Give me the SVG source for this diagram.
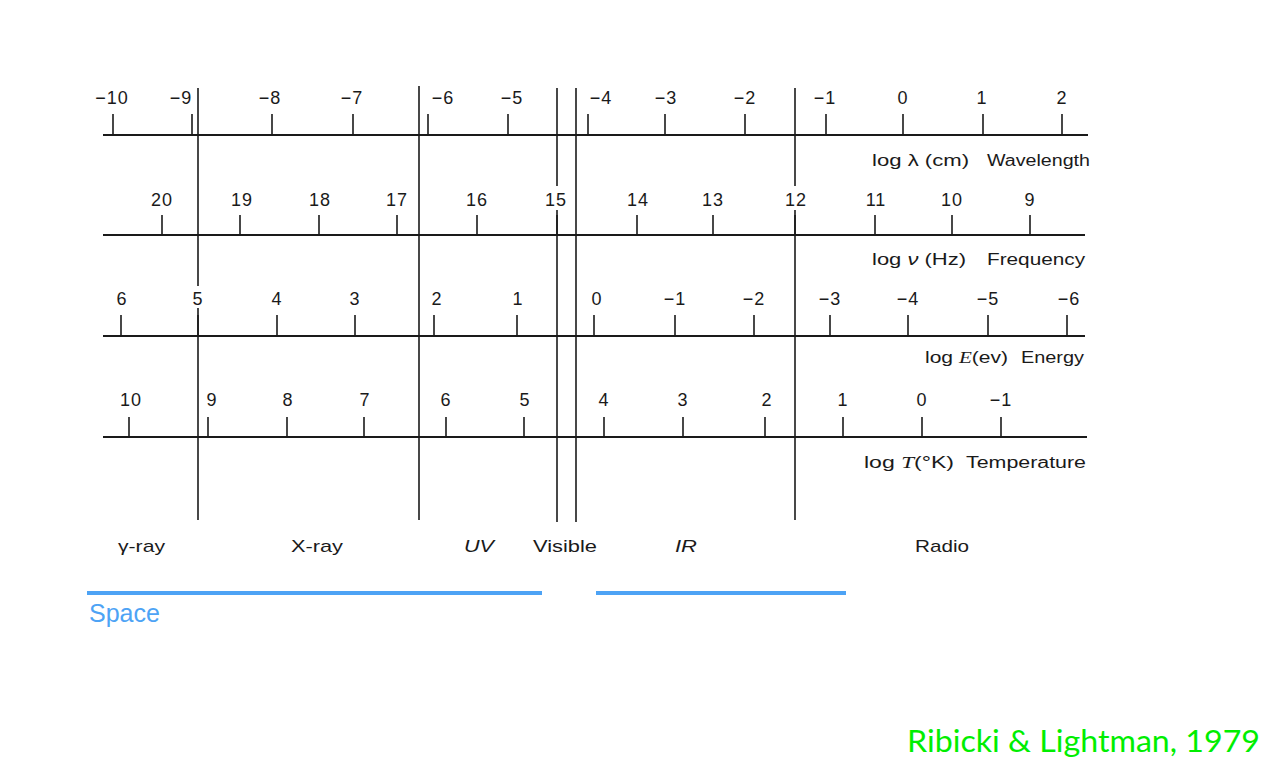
<svg xmlns="http://www.w3.org/2000/svg" width="1283" height="779" viewBox="0 0 1283 779">
<style>
.ax{stroke:#1a1a1a;stroke-width:1.8;fill:none}
.tk{stroke:#1a1a1a;stroke-width:1.6}
.dv{stroke:#1a1a1a;stroke-width:1.6}
.n{font-family:"Liberation Sans",Arial,sans-serif;font-size:18px;fill:#1a1a1a;text-anchor:middle;letter-spacing:1px}
.al{font-family:"Liberation Sans",Arial,sans-serif;font-size:16px;fill:#1a1a1a}
.bl{font-family:"Liberation Sans",Arial,sans-serif;font-size:17px;fill:#1a1a1a}
.sp{stroke:#4da3f5;stroke-width:4}
</style>
<rect width="1283" height="779" fill="#ffffff"/>
<g id="dividers">
<line class="dv" x1="198" y1="88" x2="198" y2="286"/>
<line class="dv" x1="198" y1="308" x2="198" y2="520"/>
<line class="dv" x1="419" y1="86" x2="419" y2="520"/>
<line class="dv" x1="557" y1="88" x2="557" y2="186"/>
<line class="dv" x1="557" y1="210" x2="557" y2="522"/>
<line class="dv" x1="576" y1="88" x2="576" y2="522"/>
<line class="dv" x1="795" y1="88" x2="795" y2="186"/>
<line class="dv" x1="795" y1="210" x2="795" y2="520"/>
</g>
<g id="wavelength">
<line class="ax" x1="103" y1="135" x2="1088" y2="135"/>
<g class="tk">
<line x1="113" y1="114" x2="113" y2="135"/><line x1="192" y1="114" x2="192" y2="135"/><line x1="272" y1="114" x2="272" y2="135"/><line x1="353" y1="114" x2="353" y2="135"/><line x1="428" y1="114" x2="428" y2="135"/><line x1="508" y1="114" x2="508" y2="135"/><line x1="588" y1="114" x2="588" y2="135"/><line x1="665" y1="114" x2="665" y2="135"/><line x1="745" y1="114" x2="745" y2="135"/><line x1="826" y1="114" x2="826" y2="135"/><line x1="903" y1="114" x2="903" y2="135"/><line x1="983" y1="114" x2="983" y2="135"/><line x1="1062" y1="114" x2="1062" y2="135"/>
</g>
<text class="n" x="112" y="104">−10</text><text class="n" x="181" y="104">−9</text><text class="n" x="270" y="104">−8</text><text class="n" x="352" y="104">−7</text><text class="n" x="443" y="104">−6</text><text class="n" x="512" y="104">−5</text><text class="n" x="601" y="104">−4</text><text class="n" x="666" y="104">−3</text><text class="n" x="745" y="104">−2</text><text class="n" x="825" y="104">−1</text><text class="n" x="903" y="104">0</text><text class="n" x="982" y="104">1</text><text class="n" x="1062" y="104">2</text>
<text class="al" x="872" y="166" textLength="97" lengthAdjust="spacingAndGlyphs">log λ (cm)</text>
<text class="al" x="987" y="166" textLength="103" lengthAdjust="spacingAndGlyphs">Wavelength</text>
</g>
<g id="frequency">
<line class="ax" x1="103" y1="235" x2="1085" y2="235"/>
<g class="tk">
<line x1="162" y1="215" x2="162" y2="235"/><line x1="240" y1="215" x2="240" y2="235"/><line x1="319" y1="215" x2="319" y2="235"/><line x1="397" y1="215" x2="397" y2="235"/><line x1="477" y1="215" x2="477" y2="235"/><line x1="557" y1="215" x2="557" y2="235"/><line x1="637" y1="215" x2="637" y2="235"/><line x1="713" y1="215" x2="713" y2="235"/><line x1="795" y1="215" x2="795" y2="235"/><line x1="875" y1="215" x2="875" y2="235"/><line x1="952" y1="215" x2="952" y2="235"/><line x1="1030" y1="215" x2="1030" y2="235"/>
</g>
<text class="n" x="162" y="206">20</text><text class="n" x="242" y="206">19</text><text class="n" x="320" y="206">18</text><text class="n" x="397" y="206">17</text><text class="n" x="477" y="206">16</text><text class="n" x="556" y="206">15</text><text class="n" x="638" y="206">14</text><text class="n" x="713" y="206">13</text><text class="n" x="796" y="206">12</text><text class="n" x="876" y="206">11</text><text class="n" x="952" y="206">10</text><text class="n" x="1030" y="206">9</text>
<text class="al" x="872" y="265" textLength="94" lengthAdjust="spacingAndGlyphs">log <tspan font-style="italic">ν</tspan> (Hz)</text>
<text class="al" x="987" y="265" textLength="98" lengthAdjust="spacingAndGlyphs">Frequency</text>
</g>
<g id="energy">
<line class="ax" x1="103" y1="336" x2="1085" y2="336"/>
<g class="tk">
<line x1="121" y1="315" x2="121" y2="336"/><line x1="198" y1="315" x2="198" y2="336"/><line x1="277" y1="315" x2="277" y2="336"/><line x1="355" y1="315" x2="355" y2="336"/><line x1="434" y1="315" x2="434" y2="336"/><line x1="517" y1="315" x2="517" y2="336"/><line x1="594" y1="315" x2="594" y2="336"/><line x1="675" y1="315" x2="675" y2="336"/><line x1="754" y1="315" x2="754" y2="336"/><line x1="830" y1="315" x2="830" y2="336"/><line x1="908" y1="315" x2="908" y2="336"/><line x1="988" y1="315" x2="988" y2="336"/><line x1="1067" y1="315" x2="1067" y2="336"/>
</g>
<text class="n" x="122" y="305">6</text><text class="n" x="198" y="305">5</text><text class="n" x="277" y="305">4</text><text class="n" x="355" y="305">3</text><text class="n" x="437" y="305">2</text><text class="n" x="518" y="305">1</text><text class="n" x="597" y="305">0</text><text class="n" x="675" y="305">−1</text><text class="n" x="754" y="305">−2</text><text class="n" x="830" y="305">−3</text><text class="n" x="908" y="305">−4</text><text class="n" x="988" y="305">−5</text><text class="n" x="1069" y="305">−6</text>
<text class="al" x="925" y="363" textLength="83" lengthAdjust="spacingAndGlyphs">log <tspan font-style="italic" font-family="Liberation Serif">E</tspan>(ev)</text>
<text class="al" x="1021" y="363" textLength="63" lengthAdjust="spacingAndGlyphs">Energy</text>
</g>
<g id="temperature">
<line class="ax" x1="103" y1="437" x2="1087" y2="437"/>
<g class="tk">
<line x1="129" y1="417" x2="129" y2="437"/><line x1="208" y1="417" x2="208" y2="437"/><line x1="287" y1="417" x2="287" y2="437"/><line x1="364" y1="417" x2="364" y2="437"/><line x1="446" y1="417" x2="446" y2="437"/><line x1="524" y1="417" x2="524" y2="437"/><line x1="604" y1="417" x2="604" y2="437"/><line x1="683" y1="417" x2="683" y2="437"/><line x1="765" y1="417" x2="765" y2="437"/><line x1="843" y1="417" x2="843" y2="437"/><line x1="922" y1="417" x2="922" y2="437"/><line x1="1001" y1="417" x2="1001" y2="437"/>
</g>
<text class="n" x="131" y="406">10</text><text class="n" x="212" y="406">9</text><text class="n" x="288" y="406">8</text><text class="n" x="365" y="406">7</text><text class="n" x="446" y="406">6</text><text class="n" x="525" y="406">5</text><text class="n" x="604" y="406">4</text><text class="n" x="683" y="406">3</text><text class="n" x="767" y="406">2</text><text class="n" x="843" y="406">1</text><text class="n" x="922" y="406">0</text><text class="n" x="1001" y="406">−1</text>
<text class="al" x="864" y="468" textLength="90" lengthAdjust="spacingAndGlyphs">log <tspan font-style="italic" font-family="Liberation Serif">T</tspan>(°K)</text>
<text class="al" x="966" y="468" textLength="120" lengthAdjust="spacingAndGlyphs">Temperature</text>
</g>
<g id="bands">
<text class="bl" x="118" y="552" textLength="47" lengthAdjust="spacingAndGlyphs">γ-ray</text>
<text class="bl" x="291" y="552" textLength="52" lengthAdjust="spacingAndGlyphs">X-ray</text>
<text class="bl" x="464" y="552" font-style="italic" font-family="Liberation Serif" textLength="30" lengthAdjust="spacingAndGlyphs">UV</text>
<text class="bl" x="533" y="552" textLength="64" lengthAdjust="spacingAndGlyphs">Visible</text>
<text class="bl" x="675" y="552" font-style="italic" font-family="Liberation Serif" textLength="22" lengthAdjust="spacingAndGlyphs">IR</text>
<text class="bl" x="915" y="552" textLength="54" lengthAdjust="spacingAndGlyphs">Radio</text>
</g>
<g id="space">
<line class="sp" x1="87" y1="593" x2="542" y2="593"/>
<line class="sp" x1="596" y1="593" x2="846" y2="593"/>
<text x="89" y="622" font-family="Liberation Sans,Arial,sans-serif" font-size="25" fill="#4da3f5">Space</text>
</g>
<g id="credit">
<text x="907" y="752" font-family="Lato,'Open Sans',sans-serif" font-size="30" fill="#00ee00" textLength="353" lengthAdjust="spacingAndGlyphs">Ribicki &amp; Lightman, 1979</text>
</g>
</svg>
